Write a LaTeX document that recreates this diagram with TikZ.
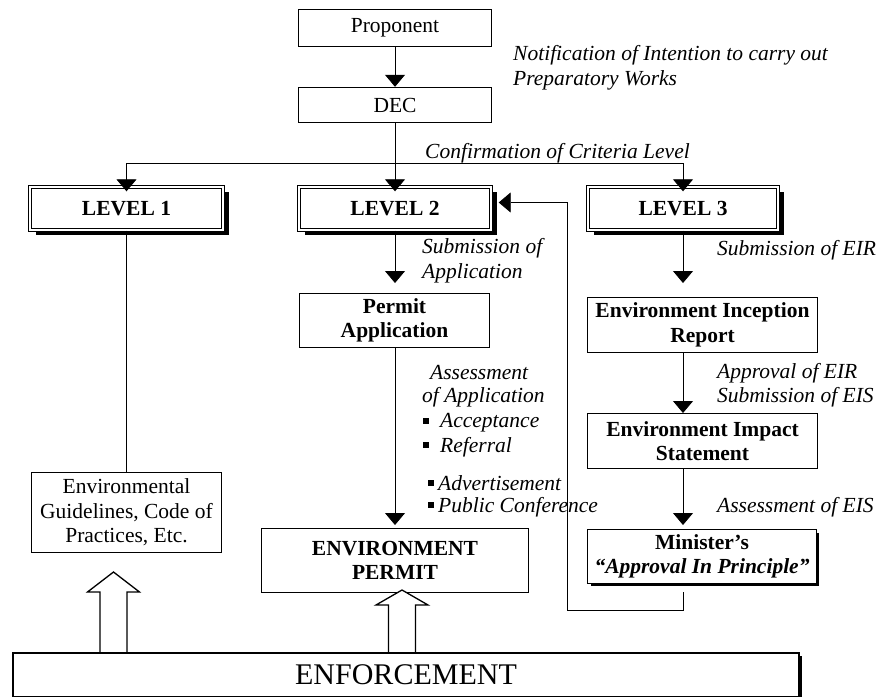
\documentclass[tikz,border=0pt]{standalone}
\usepackage{fontspec}
\setmainfont{Liberation Serif}
\usepackage{tikz}
\usetikzlibrary{arrows.meta,shadows}

\newcommand{\dfont}{\fontsize{21.5}{24.5}\selectfont}
\newcommand{\sqb}{\rule[4pt]{6pt}{6pt}}

\tikzset{
  box/.style={draw, line width=1.4pt, fill=white, inner sep=0pt, align=center, font=\dfont},
  lvl/.style={box, line width=1pt, double, double distance=1.6pt, font=\dfont\bfseries,
    drop shadow={shadow xshift=6pt, shadow yshift=-5pt, fill=black, opacity=1}},
  lbl/.style={inner sep=0pt, align=left, anchor=west, font=\dfont\itshape},
  arr/.style={line width=0.8pt, -{Triangle[length=12pt, width=20pt]}},
  hollow/.style={draw, line width=1.3pt, fill=white, line join=miter}
}

\begin{document}
\begin{tikzpicture}[x=1pt, y=-1pt]
        \useasboundingbox (0,0) rectangle (885,696);

        \node [box, minimum width=193pt, minimum height=37pt] (prop) at (395,28) {Proponent};
        \node [box, minimum width=193pt, minimum height=35pt] (dec) at (395,105) {DEC};
        \node [lbl] (notif) at (513,67.5) {Notification of Intention to carry out\\Preparatory Works};

        \node [lvl, minimum width=193.4pt, minimum height=43.4pt] (lev1) at (126.5,208.5) {LEVEL 1};
        \node [lvl, minimum width=192.4pt, minimum height=43.4pt] (lev2) at (395,208.5) {LEVEL 2};
        \node [lvl, minimum width=190.4pt, minimum height=43.4pt] (lev3) at (683,208.5) {LEVEL 3};
        \node [lbl, anchor=base west] (conf) at (425,158) {Confirmation of Criteria Level};

        \node [box, font=\dfont\bfseries, minimum width=189.6pt, minimum height=53.6pt] (perm) at (394.5,320.5) {Permit\\Application};
        \node [lbl] (subapp) at (422,260.5) {Submission of\\Application};
        \node [lbl] (assess) at (430,373) {Assessment};
        \node [lbl] (ofapp) at (422,397) {of Application};
        \node [lbl] (accept) at (423,423) {\sqb\hspace{11pt}Acceptance};
        \node [lbl] (refer) at (423,447) {\sqb\hspace{11pt}Referral};
        \node [lbl] (advert) at (428,483) {\sqb\hspace{4pt}Advertisement};
        \node [lbl] (pubconf) at (428,507) {\sqb\hspace{4pt}Public Conference};

        \node [box, font=\dfont\bfseries, minimum width=229.6pt, minimum height=54.6pt] (eir) at (702.5,325) {Environment Inception\\Report};
        \node [box, font=\dfont\bfseries, minimum width=229.6pt, minimum height=54.6pt] (eis) at (702.5,441) {Environment Impact\\Statement};
        \node [box, font=\dfont\bfseries, minimum width=228.6pt, minimum height=53.6pt,
          drop shadow={shadow xshift=3pt, shadow yshift=-3pt, fill=black, opacity=1}] (mini) at (702,556.5)
          {Minister’s\\\textit{“Approval In Principle”}};
        \node [lbl] (subeir) at (717,250) {Submission of EIR};
        \node [lbl] (apreir) at (717,385) {Approval of EIR\\Submission of EIS};
        \node [lbl] (asseis) at (717,507) {Assessment of EIS};

        \node [box, minimum width=189.6pt, minimum height=79.6pt] (guide) at (126.5,512.5) {Environmental\\Guidelines, Code of\\Practices, Etc.};
        \node [box, font=\dfont\bfseries, minimum width=266.6pt, minimum height=63.6pt] (envp) at (395,560.5) {ENVIRONMENT\\PERMIT};

        \foreach \ax/\tip/\base in {113.5/572/592, 402/590/605} {
          \draw [hollow] (\ax-13.5,652) -- (\ax-13.5,\base) -- (\ax-26,\base) -- (\ax,\tip)
            -- (\ax+26,\base) -- (\ax+13.5,\base) -- (\ax+13.5,652);
        }

        \node [box, line width=2pt, font=\fontsize{30}{34}\selectfont, minimum width=786pt, minimum height=44pt,
          drop shadow={shadow xshift=2.5pt, shadow yshift=-2.5pt, fill=black, opacity=1}] (enf) at (406,675) {ENFORCEMENT};

        \coordinate (spl) at (395,163);
        \coordinate (fb) at (567,610);

        \draw [arr] (prop) -- (dec);
        \draw [line width=0.8pt] (dec) -- (spl);
        \draw [arr, shorten >=-5pt] (spl) -- (lev2);
        \draw [arr, shorten >=-5pt] (spl) -| (lev1);
        \draw [arr, shorten >=-5pt] (spl) -| (lev3);

        \draw [line width=0.8pt] (lev1) -- (guide);

        \draw [arr, shorten >=10pt] (lev2) -- (lev2 |- perm.north);
        \draw [arr, shorten >=3pt] (lev2 |- perm.south) -- (lev2 |- envp.north);

        \draw [arr, shorten >=14pt] (lev3) -- (lev3 |- eir.north);
        \draw [arr] (lev3 |- eir.south) -- (lev3 |- eis.north);
        \draw [arr, shorten >=4pt] (lev3 |- eis.south) -- (lev3 |- mini.north);

        \draw [arr] ([yshift=-8pt]mini.south -| lev3) |- (fb) |- ([xshift=7pt,yshift=6pt]lev2.east);
\end{tikzpicture}
\end{document}
